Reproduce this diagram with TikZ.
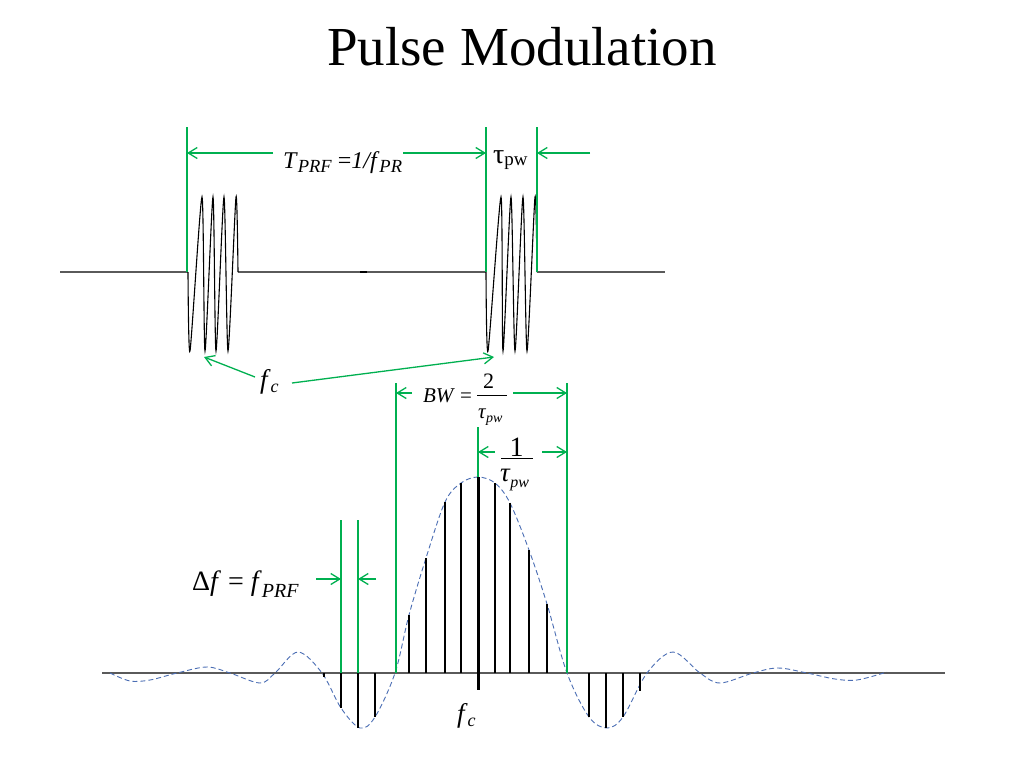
\documentclass[tikz,border=0pt]{standalone}
\usepackage{fontspec}
\setmainfont{Liberation Serif}
\usetikzlibrary{arrows.meta}
\definecolor{pgreen}{RGB}{0,176,80}
\definecolor{envblue}{RGB}{75,110,180}
\definecolor{axisgray}{RGB}{90,90,90}
\newcommand{\lsub}[3]{\raisebox{-#2}{\fontsize{#1}{#1}\selectfont #3}}
\newcommand{\fs}[1]{\fontsize{#1}{#1}\selectfont}
\begin{document}
\begin{tikzpicture}[x=1pt,y=-1pt,
  guide/.style={draw=pgreen,line width=1.3pt},
  dim/.style={draw=pgreen,line width=1.3pt,-{Straight Barb[length=9pt,width=11pt]}},
  wave/.style={draw=black,line width=1.1pt},
  axisline/.style={draw=axisgray,line width=1.5pt},
  envelope/.style={draw=envblue,line width=0.9pt,dash pattern=on 5pt off 3pt},
  specline/.style={draw=black,line width=1.1pt},
  lbl/.style={inner sep=0pt,outer sep=0pt},
  fracbar/.style={draw=black,line width=0.9pt}]
\useasboundingbox (0,0) rectangle (1024,768);
\fill[white] (0,0) rectangle (1024,768);

% title
\node[lbl,anchor=base,font=\fs{55}] (title) at (522,65) {Pulse Modulation};

% ---------- top: pulse train ----------
\draw[axisline] (60,272) -- (188,272);
\draw[axisline] (238,272) -- (486,272);
\draw[axisline] (537,272) -- (665,272);
\draw[line width=2pt,black] (360,272) -- (367,272);
\draw[wave] plot[smooth,tension=0.4] coordinates {(188,272) (190,351) (202,197) (205,351) (213,197)
  (216,351) (224,197) (228,351) (236,197) (238,272)};
\draw[wave] plot[smooth,tension=0.4] coordinates {(486,272) (488,351) (501,197) (503,351) (511,197)
  (515,351) (523,197) (527,351) (535,197) (537,272)};

% guides top
\coordinate (g1t) at (187,127); \coordinate (g1b) at (187,272);
\coordinate (g2t) at (486,127); \coordinate (g2b) at (486,272);
\coordinate (g3t) at (537,127); \coordinate (g3b) at (537,272);
\draw[guide] (g1t) -- (g1b);
\draw[guide] (g2t) -- (g2b);
\draw[guide] (g3t) -- (g3b);
\coordinate (a1s) at (273,153); \coordinate (a1e) at (187,153);
\coordinate (a2s) at (403,153); \coordinate (a2e) at (486,153);
\coordinate (a3s) at (590,153); \coordinate (a3e) at (537,153);
\draw[dim] (a1s) -- (a1e);
\draw[dim] (a2s) -- (a2e);
\draw[dim] (a3s) -- (a3e);

\node[lbl,anchor=base west,font=\fs{24}] (tprf) at (283,168)
  {\textit{T}\lsub{18.5}{4.5pt}{\textit{PRF}} =\textit{1/f}\lsub{18.5}{4.5pt}{\textit{PR}}};
\node[lbl,anchor=base west,font=\fs{28}] (tpw) at (493,163)
  {τ\lsub{19}{2.5pt}{pw}};

% f_c top
\node[lbl,anchor=base west,font=\fs{27}] (fctop) at (260,388)
  {\textit{f}\lsub{18}{4pt}{\textit{c}}};
\coordinate (fc1e) at (204,357);
\coordinate (fc2e) at (494,357);
\draw[dim] (255,377) -- (fc1e);
\draw[dim] (292,383) -- (fc2e);

% ---------- bottom: spectrum ----------
\draw[axisline] (102,673) -- (945,673);

% envelope
\draw[envelope] plot[smooth,tension=0.55] coordinates {
 (110,673) (130,681) (150,680) (177,673) (207,667) (230,673) (260,683) (275,673)
 (298,652) (322,673) (341,708) (360,728) (375,717) (395,673) (409,615) (426,558)
 (445,502) (461,483) (478,477) (495,483) (510,503) (529,550) (547,604) (567,673)
 (589,717) (607,728) (623,717) (647,673) (673,652) (700,673) (720,683) (753,673)
 (778,668) (807,673) (835,679) (857,680) (887,672)};

% spectral lines
\foreach \x/\y in {409/615,426/558,445/502,461/483,495/483,510/503,529/550,547/604,
                   324/677,341/708,358/728,375/717,589/717,606/728,623/717,640/691}
  \draw[specline] (\x,673) -- (\x,\y);
\draw[black,line width=3pt] (478,477) -- (478,690);

% guides bottom
\coordinate (g4t) at (396,383); \coordinate (g4b) at (396,673);
\coordinate (g5t) at (567,383); \coordinate (g5b) at (567,673);
\coordinate (g6t) at (478,427); \coordinate (g6b) at (478,477);
\coordinate (g7t) at (341,520); \coordinate (g7b) at (341,673);
\coordinate (g8t) at (358,520); \coordinate (g8b) at (358,673);
\draw[guide] (g4t) -- (g4b);
\draw[guide] (g5t) -- (g5b);
\draw[guide] (g6t) -- (g6b);
\draw[guide] (g7t) -- (g7b);
\draw[guide] (g8t) -- (g8b);

\coordinate (b1s) at (412,393); \coordinate (b1e) at (396,393);
\coordinate (b2s) at (513,393); \coordinate (b2e) at (567,393);
\coordinate (c1s) at (495,452); \coordinate (c1e) at (478,452);
\coordinate (c2s) at (542,452); \coordinate (c2e) at (567,452);
\coordinate (d1s) at (316,579); \coordinate (d1e) at (341,579);
\coordinate (d2s) at (376,579); \coordinate (d2e) at (358,579);
\draw[dim] (b1s) -- (b1e);
\draw[dim] (b2s) -- (b2e);
\draw[dim] (c1s) -- (c1e);
\draw[dim] (c2s) -- (c2e);
\draw[dim] (d1s) -- (d1e);
\draw[dim] (d2s) -- (d2e);

% BW = 2/tau_pw
\node[lbl,anchor=base west,font=\fs{21}] (bw) at (423,402) {\textit{BW} =};
\node[lbl,anchor=base,font=\fs{22}] (two) at (488.5,388) {2};
\draw[fracbar] (477,395) -- (507,395);
\node[lbl,anchor=base west,font=\fs{21}] (taubw) at (478,418)
  {\textit{τ}\lsub{14}{4pt}{\textit{pw}}};

% 1/tau_pw
\node[lbl,anchor=base,font=\fs{28}] (one) at (516.5,456) {1};
\draw[fracbar] (501,458) -- (533,458);
\node[lbl,anchor=base west,font=\fs{27}] (tauone) at (500,481)
  {\textit{τ}\lsub{16}{6pt}{\textit{pw}}};

% delta f
\node[lbl,anchor=base west,font=\fs{28}] (df) at (192,590)
  {Δ\textit{f} = \textit{f}\lsub{20}{7pt}{\textit{PRF}}};

% f_c bottom
\node[lbl,anchor=base west,font=\fs{27}] (fcbot) at (457,722)
  {\textit{f}\lsub{18}{4pt}{\textit{c}}};
\end{tikzpicture}
\end{document}
